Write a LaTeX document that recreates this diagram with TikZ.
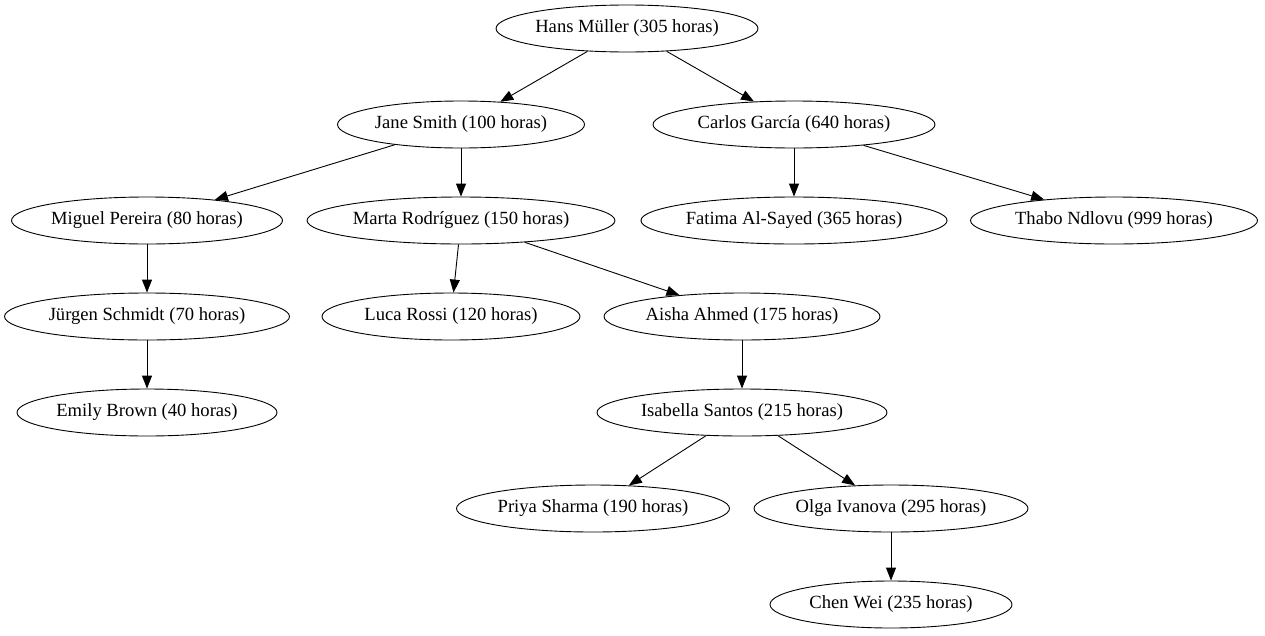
\documentclass[tikz,border=0pt]{standalone}
\usepackage{fontspec}
\setmainfont{Liberation Serif}
\usepackage{tikz}
\usetikzlibrary{shapes.geometric, arrows.meta, positioning}

\begin{document}
\begin{tikzpicture}[x=1pt,y=-1pt,
    persona/.style={ellipse,draw=black,line width=0.9pt,inner sep=0pt,minimum height=47pt,font=\fontsize{18.6}{22}\selectfont},
    enlace/.style={draw=black,line width=0.9pt,-{Triangle[length=13pt,width=10pt]}}]
    \useasboundingbox (0,0) rectangle (1265,635);

    % Livello 0
    \node[persona,minimum width=262pt] (hans) at (627,28.5) {Hans Müller (305 horas)};

    % Livello 1
    \node[persona,minimum width=247pt] (jane) at (461,124.5) {Jane Smith (100 horas)};
    \node[persona,minimum width=282pt] (carlos) at (794,124.5) {Carlos García (640 horas)};

    % Livello 2
    \node[persona,minimum width=271pt] (miguel) at (147,220.5) {Miguel Pereira (80 horas)};
    \node[persona,minimum width=308pt] (marta) at (461,220.5) {Marta Rodríguez (150 horas)};
    \node[persona,minimum width=305pt] (fatima) at (794,220.5) {Fatima Al-Sayed (365 horas)};
    \node[persona,minimum width=287pt] (thabo) at (1114,220.5) {Thabo Ndlovu (999 horas)};

    % Livello 3
    \node[persona,minimum width=285pt] (jurgen) at (147,316.5) {Jürgen Schmidt (70 horas)};
    \node[persona,minimum width=258pt] (luca) at (451,316.5) {Luca Rossi (120 horas)};
    \node[persona,minimum width=276pt] (aisha) at (742,316.5) {Aisha Ahmed (175 horas)};

    % Livello 4
    \node[persona,minimum width=260pt] (emily) at (147,412.5) {Emily Brown (40 horas)};
    \node[persona,minimum width=290pt] (isabella) at (742,412.5) {Isabella Santos (215 horas)};

    % Livello 5
    \node[persona,minimum width=273pt] (priya) at (593,508.5) {Priya Sharma (190 horas)};
    \node[persona,minimum width=274pt] (olga) at (891,508.5) {Olga Ivanova (295 horas)};

    % Livello 6
    \node[persona,minimum width=242pt] (chen) at (891,604.5) {Chen Wei (235 horas)};

    % Archi
    \draw[enlace] (hans) -- (jane);
    \draw[enlace] (hans) -- (carlos);
    \draw[enlace] (jane) -- (miguel);
    \draw[enlace] (jane) -- (marta);
    \draw[enlace] (carlos) -- (fatima);
    \draw[enlace] (carlos) -- (thabo);
    \draw[enlace] (miguel) -- (jurgen);
    \draw[enlace] (marta) -- (luca);
    \draw[enlace] (marta) -- (aisha);
    \draw[enlace] (jurgen) -- (emily);
    \draw[enlace] (aisha) -- (isabella);
    \draw[enlace] (isabella) -- (priya);
    \draw[enlace] (isabella) -- (olga);
    \draw[enlace] (olga) -- (chen);
\end{tikzpicture}
\end{document}
